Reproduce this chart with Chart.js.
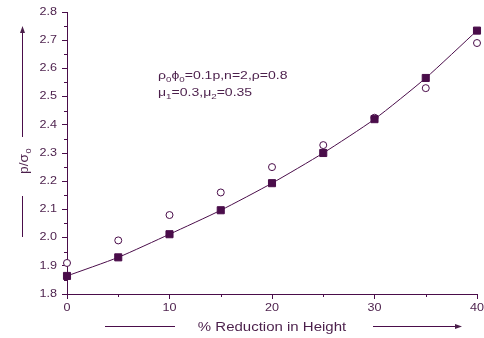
<!DOCTYPE html>
<html>
<head>
<meta charset="utf-8">
<script src="https://cdn.jsdelivr.net/npm/chart.js@4"></script>
<style>
  body { margin: 0; background: #fff; }
  #wrap { width: 484px; height: 338px; }
</style>
</head>
<body>
<div id="wrap"><canvas id="pl-canvas" width="484" height="338"></canvas></div>
<script>
const reduction = [0, 5, 10, 15, 20, 25, 30, 35, 40];
const theory = [1.864, 1.93, 2.012, 2.097, 2.193, 2.30, 2.42, 2.566, 2.734];
const experiment = [1.91, 1.99, 2.08, 2.16, 2.25, 2.328, 2.425, 2.53, 2.69];
const xTicks = [0, 10, 20, 30, 40];
const yTicks = [1.8, 1.9, 2.0, 2.1, 2.2, 2.3, 2.4, 2.5, 2.6, 2.7, 2.8];

const ink = "#4a0d4a";
const textInk = "#4b1f4b";
const fontFam = "'Liberation Sans', Arial, sans-serif";

// text in the original is a bit wider than it is tall
function wideText(ctx, s, x, y, size, sx, align) {
    ctx.save();
    ctx.font = size + "px " + fontFam;
    const w = ctx.measureText(s).width * sx;
    let left = x;
    if (align === "center") left = x - w / 2;
    if (align === "right") left = x - w;
    ctx.translate(left, y);
    ctx.scale(sx, 1);
    ctx.textAlign = "left";
    ctx.fillText(s, 0, 0);
    ctx.restore();
    return w;
}

// tick labels, minor ticks, axis titles with arrows, parameter note
const decor = {
    id: "decor",
    afterDraw(chart) {
        const ctx = chart.ctx;
        const xs = chart.scales.x;
        const ys = chart.scales.y;
        const area = chart.chartArea;
        ctx.save();
        ctx.strokeStyle = ink;
        ctx.fillStyle = textInk;
        ctx.lineWidth = 1;
        ctx.beginPath();
        for (let v = 5; v < 40; v += 10) {
            const px = Math.round(xs.getPixelForValue(v)) + 0.5;
            ctx.moveTo(px, area.bottom);
            ctx.lineTo(px, area.bottom + 3);
        }
        for (let v = 1.85; v < 2.8; v += 0.1) {
            const py = Math.round(ys.getPixelForValue(v)) + 0.5;
            ctx.moveTo(area.left, py);
            ctx.lineTo(area.left - 3, py);
        }
        ctx.stroke();

        ctx.textBaseline = "middle";
        xs.ticks.forEach((t) => {
            wideText(ctx, String(t.value), xs.getPixelForValue(t.value), area.bottom + 14, 10.5, 1.2, "center");
        });
        ys.ticks.forEach((t) => {
            wideText(ctx, t.value.toFixed(1), area.left - 10, ys.getPixelForValue(t.value), 10.5, 1.2, "right");
        });

        // x title
        wideText(ctx, "% Reduction in Height", 272, 327.5, 12.5, 1.2, "center");
        ctx.beginPath();
        ctx.moveTo(105, 326.5);
        ctx.lineTo(175, 326.5);
        ctx.moveTo(373, 326.5);
        ctx.lineTo(459, 326.5);
        ctx.stroke();
        ctx.beginPath();
        ctx.moveTo(462, 326.5);
        ctx.lineTo(455, 324);
        ctx.lineTo(455, 329);
        ctx.closePath();
        ctx.fill();

        // y title
        ctx.save();
        ctx.translate(25, 161);
        ctx.rotate(-Math.PI / 2);
        ctx.textBaseline = "middle";
        const w = wideText(ctx, "p/\u03c3", -3, 0, 12, 1.15, "center");
        wideText(ctx, "0", -3 + w / 2 + 0.5, 4, 8, 1.15, "left");
        ctx.restore();
        ctx.beginPath();
        ctx.moveTo(22.5, 196);
        ctx.lineTo(22.5, 237);
        ctx.moveTo(22.5, 137);
        ctx.lineTo(22.5, 31);
        ctx.stroke();
        ctx.beginPath();
        ctx.moveTo(22.5, 26);
        ctx.lineTo(20, 33);
        ctx.lineTo(25, 33);
        ctx.closePath();
        ctx.fill();

        // parameter note
        const nx = xs.getPixelForValue(8.88);
        const ny1 = ys.getPixelForValue(2.562);
        const ny2 = ys.getPixelForValue(2.502);
        ctx.textBaseline = "alphabetic";
        const parts1 = [["\u03c1", 0], ["0", 1], ["\u03d5", 0], ["0", 1], ["=0.1p,n=2,\u03c1=0.8", 0]];
        const parts2 = [["\u03bc", 0], ["1", 1], ["=0.3,\u03bc", 0], ["2", 1], ["=0.35", 0]];
        [[parts1, ny1], [parts2, ny2]].forEach(([parts, y]) => {
            let x = nx;
            parts.forEach(([s, sub]) => {
                x += wideText(ctx, s, x, y + (sub ? 3 : 0), sub ? 8 : 11.5, 1.22, "left");
            });
        });
        ctx.restore();
    },
};

const data = {
    datasets: [
        {
            label: "Theory",
            data: reduction.map((x, i) => ({ x: x, y: theory[i] })),
            showLine: true,
            borderColor: ink,
            borderWidth: 1,
            tension: 0.2,
            pointStyle: "rect",
            pointRadius: 5,
            pointBackgroundColor: ink,
            pointBorderColor: ink,
        },
        {
            label: "Experiment",
            data: reduction.map((x, i) => ({ x: x, y: experiment[i] })),
            showLine: false,
            pointStyle: "circle",
            pointRadius: 3.5,
            pointBorderWidth: 1,
            pointBackgroundColor: "#fff",
            pointBorderColor: ink,
        },
    ],
};

const config = {
    type: "scatter",
    data: data,
    plugins: [decor],
    options: {
        responsive: false,
        animation: false,
        clip: false,
        layout: { padding: { top: 12, right: 7, left: 0, bottom: 0 } },
        plugins: { legend: { display: false }, tooltip: { enabled: false } },
        scales: {
            x: {
                type: "linear",
                min: 0,
                max: 40,
                afterBuildTicks: (s) => { s.ticks = xTicks.map((v) => ({ value: v })); },
                afterFit: (s) => { s.height = 44; },
                ticks: { display: false },
                grid: { drawOnChartArea: false, tickLength: 5, tickColor: ink },
                border: { color: ink, width: 1 },
            },
            y: {
                min: 1.8,
                max: 2.8,
                afterBuildTicks: (s) => { s.ticks = yTicks.map((v) => ({ value: v })); },
                afterFit: (s) => { s.width = 67; },
                ticks: { display: false },
                grid: { drawOnChartArea: false, tickLength: 5, tickColor: ink },
                border: { color: ink, width: 1 },
            },
        },
    },
};

new Chart(document.querySelector("#pl-canvas"), config);
</script>
</body>
</html>
